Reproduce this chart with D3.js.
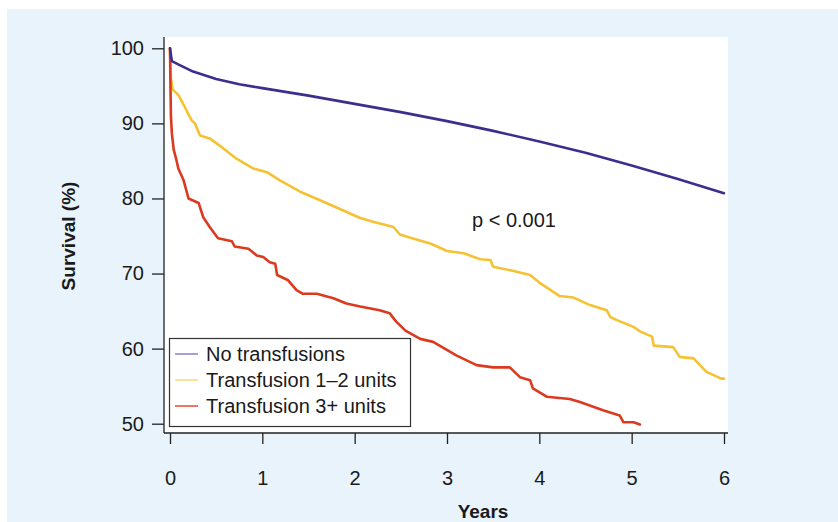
<!DOCTYPE html>
<html>
<head>
<meta charset="utf-8">
<script src="https://cdn.jsdelivr.net/npm/d3@7"></script>
<style>
  html, body { margin: 0; padding: 0; background: #ffffff; }
  svg { display: block; }
  text { font-family: "Liberation Sans", Arial, Helvetica, sans-serif; fill: #1a1a1a; }
</style>
</head>
<body>
<svg id="chart" width="838" height="522"></svg>
<script>
// ---- Data ----
const xTicks = [0, 1, 2, 3, 4, 5, 6];
const yTicks = [50, 60, 70, 80, 90, 100];
const seriesNames = ["No transfusions", "Transfusion 1\u20132 units", "Transfusion 3+ units"];
const seriesColors = ["#3b2f8e", "#f4c232", "#dc3a1f"];
const legendColors = ["#8a82cc", "#fcd97e", "#e64a30"];

// [years, survival %]
const noTransfusions = [
  [0, 100], [0.02, 98.3], [0.1, 97.8], [0.25, 96.9], [0.5, 95.9], [0.75, 95.2], [1, 94.7],
  [1.5, 93.7], [2, 92.6], [2.5, 91.5], [3, 90.3], [3.5, 89.0], [4, 87.6], [4.5, 86.1],
  [5, 84.4], [5.5, 82.6], [6, 80.7]
];
const transfusion12 = [
  [0, 100], [0.01, 96], [0.03, 94.5], [0.09, 93.8], [0.16, 92.2], [0.2, 91.2], [0.235, 90.4],
  [0.27, 90.0], [0.325, 88.4], [0.43, 88.0], [0.575, 86.7], [0.72, 85.3], [0.9, 84.0],
  [1.05, 83.5], [1.19, 82.4], [1.41, 80.9], [1.62, 79.8], [1.84, 78.6], [2.06, 77.4],
  [2.2, 76.9], [2.42, 76.2], [2.49, 75.2], [2.65, 74.6], [2.82, 74.0], [3.0, 73.0],
  [3.18, 72.7], [3.36, 71.9], [3.47, 71.8], [3.5, 70.9], [3.7, 70.4], [3.9, 69.8],
  [3.97, 69.1], [4.0, 68.8], [4.22, 67.0], [4.37, 66.8], [4.55, 65.8], [4.73, 65.1],
  [4.77, 64.2], [4.84, 63.8], [5.02, 62.9], [5.09, 62.3], [5.22, 61.6], [5.24, 60.4],
  [5.45, 60.2], [5.52, 58.9], [5.67, 58.7], [5.81, 56.9], [5.97, 56.0], [6.0, 56.0]
];
const transfusion3plus = [
  [0, 100], [0.005, 95], [0.01, 91], [0.02, 88.7], [0.04, 86.5], [0.07, 85.1], [0.09, 84.0],
  [0.145, 82.5], [0.2, 80.0], [0.31, 79.4], [0.36, 77.5], [0.43, 76.2], [0.52, 74.7],
  [0.67, 74.3], [0.70, 73.6], [0.85, 73.3], [0.94, 72.4], [1.01, 72.2], [1.08, 71.5],
  [1.14, 71.3], [1.16, 69.8], [1.28, 69.1], [1.37, 67.8], [1.44, 67.3], [1.59, 67.3],
  [1.77, 66.7], [1.91, 66.0], [2.06, 65.6], [2.27, 65.1], [2.38, 64.7], [2.45, 63.6],
  [2.55, 62.4], [2.71, 61.3], [2.85, 60.9], [3.1, 59.1], [3.32, 57.8], [3.5, 57.5],
  [3.68, 57.5], [3.79, 56.2], [3.9, 55.8], [3.93, 54.7], [4.08, 53.6], [4.33, 53.3],
  [4.44, 52.9], [4.69, 51.8], [4.87, 51.1], [4.91, 50.2], [5.02, 50.2], [5.09, 49.9]
];
const seriesData = [noTransfusions, transfusion12, transfusion3plus];

// ---- Drawing ----
const svg = d3.select("#chart");

// panel background
svg.append("rect").attr("x", 7).attr("y", 9).attr("width", 831).attr("height", 513).attr("fill", "#e8f3fc");

const plot = { left: 164, right: 728, top: 37, bottom: 433 };
svg.append("rect").attr("x", plot.left).attr("y", plot.top)
  .attr("width", plot.right - plot.left).attr("height", plot.bottom - plot.top).attr("fill", "#ffffff");

const x = d3.scaleLinear().domain([0, 6]).range([170, 724]);
const y = d3.scaleLinear().domain([50, 100]).range([423.7, 48.3]);

// curves
const line = d3.line().x(d => x(d[0])).y(d => y(d[1])).curve(d3.curveLinear);
const order = [1, 2, 0];
order.forEach(i => {
  svg.append("path").datum(seriesData[i]).attr("d", line)
    .attr("fill", "none").attr("stroke", seriesColors[i]).attr("stroke-width", 2.6)
    .attr("stroke-linejoin", "round").attr("stroke-linecap", "round");
});

// axis lines (L frame)
svg.append("line").attr("x1", plot.left).attr("x2", plot.left).attr("y1", plot.top).attr("y2", plot.bottom)
  .attr("stroke", "#222").attr("stroke-width", 1.3);
svg.append("line").attr("x1", plot.left).attr("x2", plot.right).attr("y1", plot.bottom).attr("y2", plot.bottom)
  .attr("stroke", "#222").attr("stroke-width", 1.3);

// y axis
const yAxis = svg.append("g").attr("transform", `translate(${plot.left},0)`)
  .call(d3.axisLeft(y).tickValues(yTicks).tickFormat(d3.format("d")).tickSize(12).tickPadding(8));
yAxis.select(".domain").remove();
yAxis.selectAll(".tick line").attr("stroke", "#222").attr("stroke-width", 1.3);
yAxis.selectAll(".tick text").attr("font-size", 20).attr("fill", "#1a1a1a")
  .style("font-family", "'Liberation Sans', Arial, sans-serif");

// x axis
const xAxis = svg.append("g").attr("transform", `translate(0,${plot.bottom})`)
  .call(d3.axisBottom(x).tickValues(xTicks).tickFormat(d3.format("d")).tickSize(11).tickPadding(27));
xAxis.select(".domain").remove();
xAxis.selectAll(".tick line").attr("stroke", "#222").attr("stroke-width", 1.3);
xAxis.selectAll(".tick text").attr("font-size", 20).attr("fill", "#1a1a1a")
  .style("font-family", "'Liberation Sans', Arial, sans-serif");

// axis titles
svg.append("text").attr("x", 483).attr("y", 518).attr("text-anchor", "middle")
  .attr("font-size", 19).attr("font-weight", "bold").text("Years");
svg.append("text").attr("transform", "translate(75,236) rotate(-90)").attr("text-anchor", "middle")
  .attr("font-size", 19).attr("font-weight", "bold").text("Survival (%)");

// p-value
svg.append("text").attr("x", 472).attr("y", 227).attr("font-size", 20).text("p < 0.001");

// legend
const lg = svg.append("g");
lg.append("rect").attr("x", 169.5).attr("y", 338.5).attr("width", 241).attr("height", 88)
  .attr("fill", "#ffffff").attr("stroke", "#333").attr("stroke-width", 1.2);
const rowY = d3.scalePoint().domain(d3.range(seriesNames.length)).range([354, 406]);
seriesNames.forEach((name, i) => {
  lg.append("line").attr("x1", 175).attr("x2", 198).attr("y1", rowY(i)).attr("y2", rowY(i))
    .attr("stroke", legendColors[i]).attr("stroke-width", 1.5);
  lg.append("text").attr("x", 206).attr("y", rowY(i)).attr("dy", "0.36em")
    .attr("font-size", 20).text(name);
});
</script>
</body>
</html>
